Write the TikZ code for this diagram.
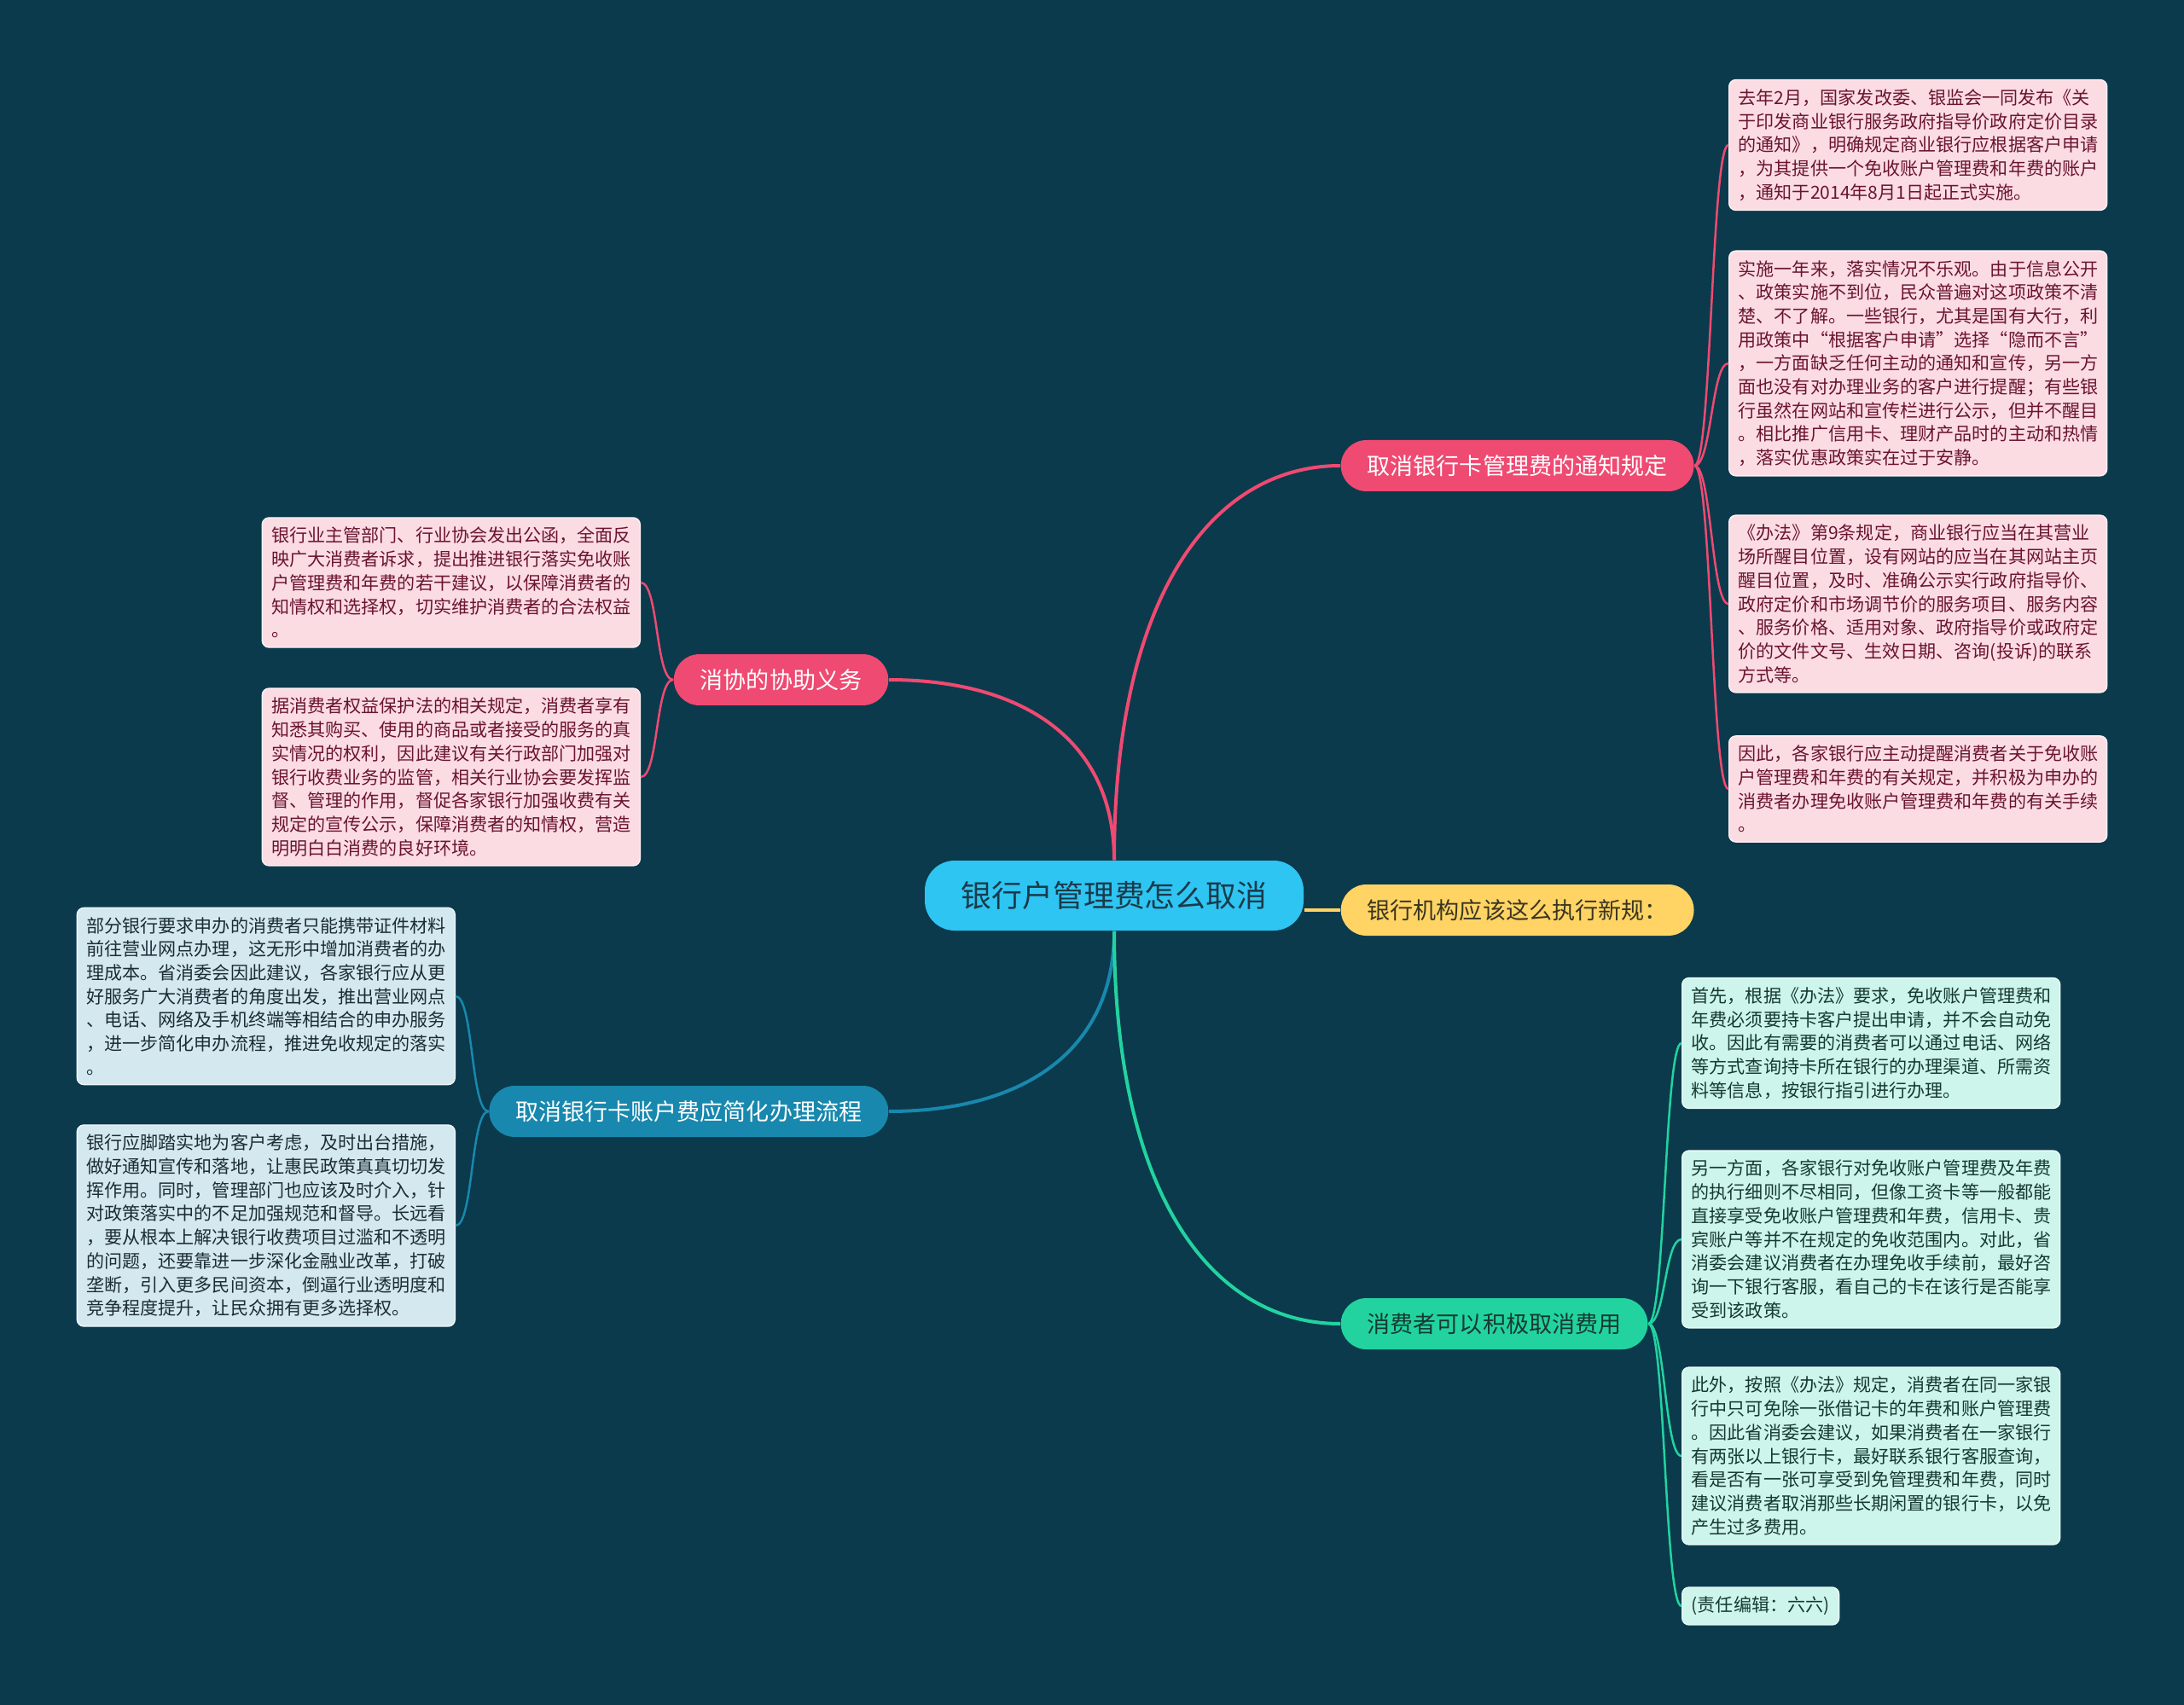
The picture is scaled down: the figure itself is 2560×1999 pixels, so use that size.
\documentclass[tikz,border=0pt]{standalone}
\usepackage{fontspec}
\setmainfont{Noto Sans CJK SC}
\usepackage{tikz}
\usetikzlibrary{positioning}
\usepackage{xcolor}

\definecolor{bgdark}{HTML}{0B3A4C}
\definecolor{rootcyan}{HTML}{2EC5F2}
\definecolor{rootink}{HTML}{1B3A4A}
\definecolor{rosebr}{HTML}{EF4A72}
\definecolor{roseleaf}{HTML}{FCDCE3}
\definecolor{roseink}{HTML}{6A1430}
\definecolor{goldbr}{HTML}{FFD464}
\definecolor{goldink}{HTML}{3A3520}
\definecolor{mintbr}{HTML}{22D3A0}
\definecolor{mintleaf}{HTML}{CEF5EB}
\definecolor{mintink}{HTML}{163A30}
\definecolor{seabr}{HTML}{1888AE}
\definecolor{sealeaf}{HTML}{D4E8F0}
\definecolor{seaink}{HTML}{1C2C34}

\begin{document}
\begin{tikzpicture}[x=0.1mm, y=-0.1mm,
    rootbox/.style={fill=rootcyan, rounded corners=3.5mm, minimum width=44.4mm, minimum height=8.2mm,
        text=rootink, font=\fontsize{10.2pt}{12pt}\selectfont},
    branch/.style={rounded corners=3mm, minimum height=6mm, inner xsep=3.1mm,
        font=\fontsize{7.7pt}{9pt}\selectfont},
    leafbase/.style={rounded corners=0.8mm, inner xsep=1.1mm, inner ysep=1.1mm,
        font=\fontsize{6pt}{7.88pt}\selectfont},
    leaf/.style={leafbase, text width=42.1mm, align=left},
    roseleafbox/.style={leaf, fill=roseleaf, draw=white!60!roseleaf, text=roseink},
    sealeafbox/.style={leaf, fill=sealeaf, draw=white!60!sealeaf, text=seaink},
    mintleafbox/.style={leaf, fill=mintleaf, draw=white!60!mintleaf, text=mintink},
    mainline/.style={line width=0.4mm},
    leafline/.style={line width=0.25mm}]

    \fill[bgdark] (0,0) rectangle (2560,1999);

    % centre and branches
    \node[rootbox] (root) at (1306,1050) {银行户管理费怎么取消};
    \node[branch, fill=rosebr, text=white, anchor=west] (notice) at (1571,546) {取消银行卡管理费的通知规定};
    \node[branch, fill=goldbr, text=goldink, anchor=west] (exec) at (1571,1067) {银行机构应该这么执行新规：};
    \node[branch, fill=mintbr, text=mintink, anchor=west] (cancel) at (1571,1552) {消费者可以积极取消费用};
    \node[branch, fill=rosebr, text=white, anchor=east] (assist) at (1042,797) {消协的协助义务};
    \node[branch, fill=seabr, text=white, anchor=east] (simplify) at (1042,1303) {取消银行卡账户费应简化办理流程};

    % notice leaves
    \node[roseleafbox, anchor=west] (notice1) at (2026,170) {去年2月，国家发改委、银监会一同发布《关\\于印发商业银行服务政府指导价政府定价目录\\的通知》，明确规定商业银行应根据客户申请\\，为其提供一个免收账户管理费和年费的账户\\，通知于2014年8月1日起正式实施。};
    \node[roseleafbox, anchor=west] (notice2) at (2026,426) {实施一年来，落实情况不乐观。由于信息公开\\、政策实施不到位，民众普遍对这项政策不清\\楚、不了解。一些银行，尤其是国有大行，利\\用政策中“根据客户申请”选择“隐而不言”\\，一方面缺乏任何主动的通知和宣传，另一方\\面也没有对办理业务的客户进行提醒；有些银\\行虽然在网站和宣传栏进行公示，但并不醒目\\。相比推广信用卡、理财产品时的主动和热情\\，落实优惠政策实在过于安静。};
    \node[roseleafbox, anchor=west] (notice3) at (2026,708) {《办法》第9条规定，商业银行应当在其营业\\场所醒目位置，设有网站的应当在其网站主页\\醒目位置，及时、准确公示实行政府指导价、\\政府定价和市场调节价的服务项目、服务内容\\、服务价格、适用对象、政府指导价或政府定\\价的文件文号、生效日期、咨询(投诉)的联系\\方式等。};
    \node[roseleafbox, anchor=west] (notice4) at (2026,925) {因此，各家银行应主动提醒消费者关于免收账\\户管理费和年费的有关规定，并积极为申办的\\消费者办理免收账户管理费和年费的有关手续\\。};

    % assist leaves
    \node[roseleafbox, anchor=east] (assist1) at (751,683) {银行业主管部门、行业协会发出公函，全面反\\映广大消费者诉求，提出推进银行落实免收账\\户管理费和年费的若干建议，以保障消费者的\\知情权和选择权，切实维护消费者的合法权益\\。};
    \node[roseleafbox, anchor=east] (assist2) at (751,911) {据消费者权益保护法的相关规定，消费者享有\\知悉其购买、使用的商品或者接受的服务的真\\实情况的权利，因此建议有关行政部门加强对\\银行收费业务的监管，相关行业协会要发挥监\\督、管理的作用，督促各家银行加强收费有关\\规定的宣传公示，保障消费者的知情权，营造\\明明白白消费的良好环境。};

    % simplify leaves
    \node[sealeafbox, anchor=east] (simplify1) at (534,1168) {部分银行要求申办的消费者只能携带证件材料\\前往营业网点办理，这无形中增加消费者的办\\理成本。省消委会因此建议，各家银行应从更\\好服务广大消费者的角度出发，推出营业网点\\、电话、网络及手机终端等相结合的申办服务\\，进一步简化申办流程，推进免收规定的落实\\。};
    \node[sealeafbox, anchor=east] (simplify2) at (534,1437) {银行应脚踏实地为客户考虑，及时出台措施，\\做好通知宣传和落地，让惠民政策真真切切发\\挥作用。同时，管理部门也应该及时介入，针\\对政策落实中的不足加强规范和督导。长远看\\，要从根本上解决银行收费项目过滥和不透明\\的问题，还要靠进一步深化金融业改革，打破\\垄断，引入更多民间资本，倒逼行业透明度和\\竞争程度提升，让民众拥有更多选择权。};

    % cancel leaves
    \node[mintleafbox, anchor=west] (cancel1) at (1971,1223) {首先，根据《办法》要求，免收账户管理费和\\年费必须要持卡客户提出申请，并不会自动免\\收。因此有需要的消费者可以通过电话、网络\\等方式查询持卡所在银行的办理渠道、所需资\\料等信息，按银行指引进行办理。};
    \node[mintleafbox, anchor=west] (cancel2) at (1971,1453) {另一方面，各家银行对免收账户管理费及年费\\的执行细则不尽相同，但像工资卡等一般都能\\直接享受免收账户管理费和年费，信用卡、贵\\宾账户等并不在规定的免收范围内。对此，省\\消委会建议消费者在办理免收手续前，最好咨\\询一下银行客服，看自己的卡在该行是否能享\\受到该政策。};
    \node[mintleafbox, anchor=west] (cancel3) at (1971,1707) {此外，按照《办法》规定，消费者在同一家银\\行中只可免除一张借记卡的年费和账户管理费\\。因此省消委会建议，如果消费者在一家银行\\有两张以上银行卡，最好联系银行客服查询，\\看是否有一张可享受到免管理费和年费，同时\\建议消费者取消那些长期闲置的银行卡，以免\\产生过多费用。};
    \node[leafbase, fill=mintleaf, draw=white!60!mintleaf, text=mintink, anchor=west] (cancel4) at (1971,1883) {(责任编辑：六六)};

    % connectors from the centre
    \draw[mainline, rosebr] (root.north) .. controls +(0,-310) and +(-150,0) .. (notice.west);
    \draw[mainline, rosebr] (root.north) .. controls +(0,-140) and +(158,0) .. (assist.east);
    \draw[mainline, seabr] (root.south) .. controls +(0,140) and +(158,0) .. (simplify.east);
    \draw[mainline, mintbr] (root.south) .. controls +(0,310) and +(-150,0) .. (cancel.west);
    \draw[mainline, goldbr] (root.east |- exec.west) -- (exec.west);

    % connectors to the leaves
    \foreach \n in {notice1,notice2,notice3,notice4}
        \draw[leafline, rosebr] (notice.east) .. controls +(20,0) and +(-20,0) .. (\n.west);
    \foreach \n in {assist1,assist2}
        \draw[leafline, rosebr] (assist.west) .. controls +(-21,0) and +(21,0) .. (\n.east);
    \foreach \n in {simplify1,simplify2}
        \draw[leafline, seabr] (simplify.west) .. controls +(-21,0) and +(21,0) .. (\n.east);
    \foreach \n in {cancel1,cancel2,cancel3,cancel4}
        \draw[leafline, mintbr] (cancel.east) .. controls +(20,0) and +(-20,0) .. (\n.west);
\end{tikzpicture}
\end{document}
